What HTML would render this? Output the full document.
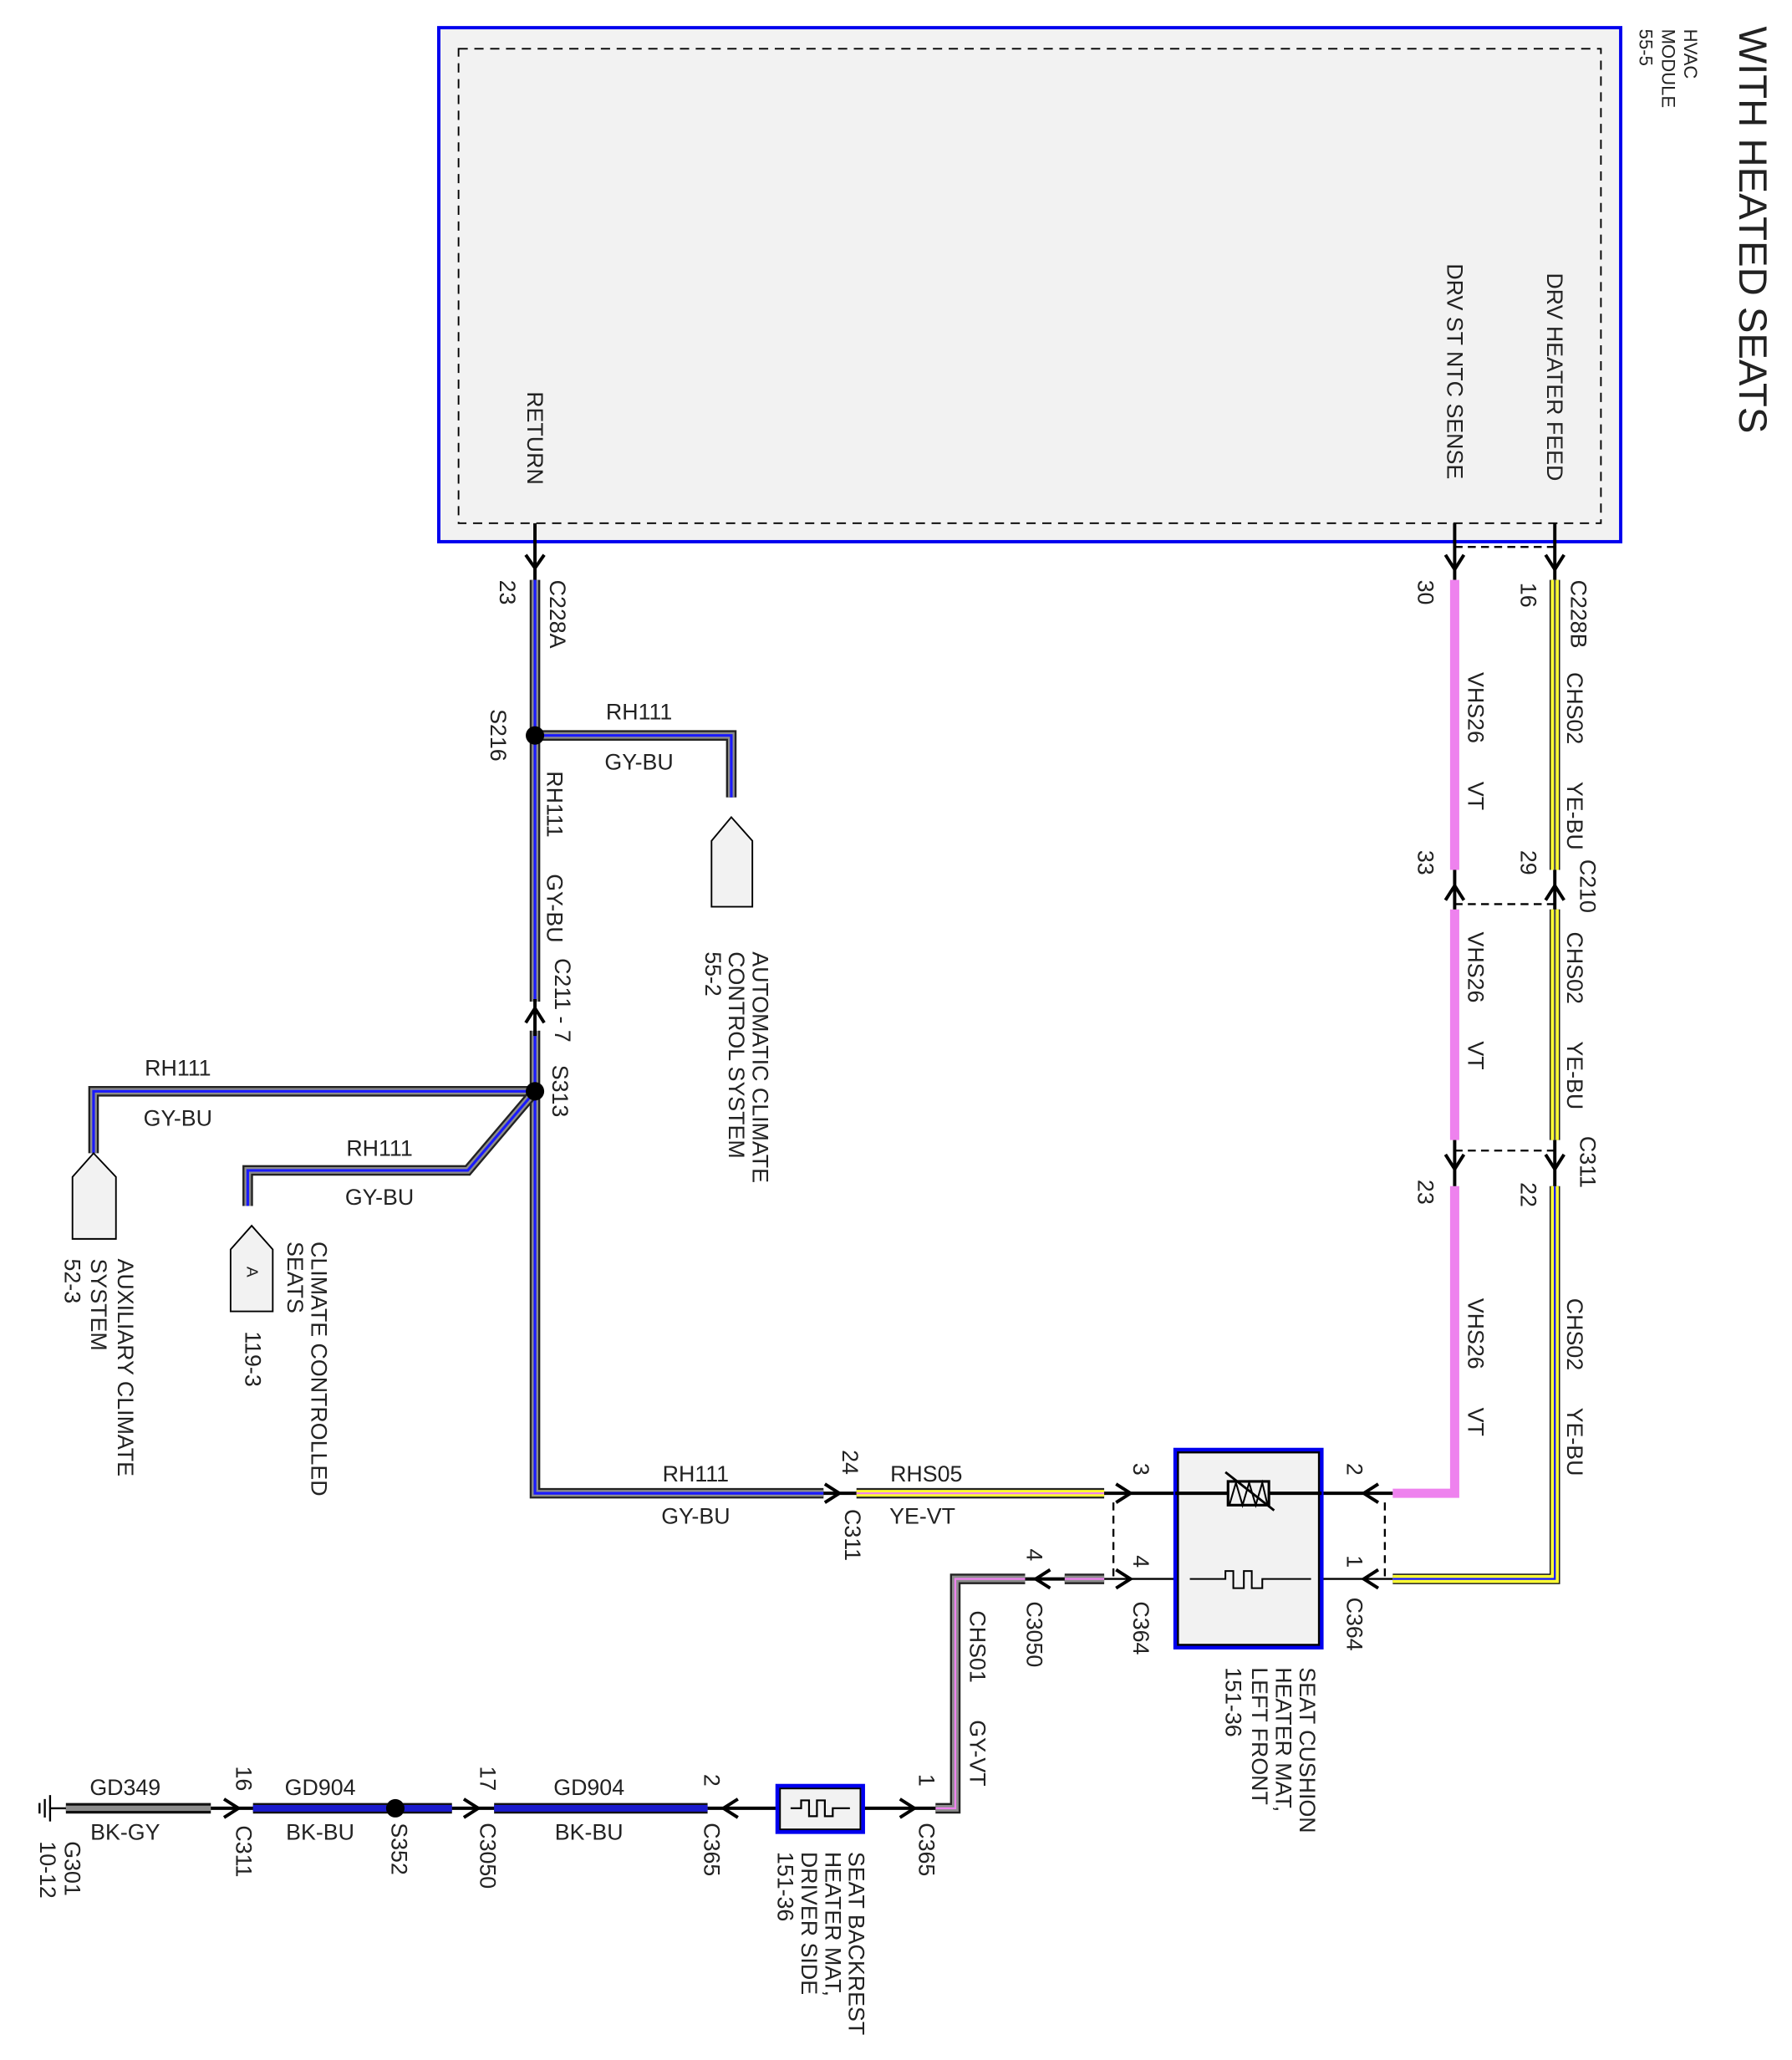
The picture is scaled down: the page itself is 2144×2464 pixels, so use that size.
<!DOCTYPE html>
<html><head><meta charset="utf-8"><style>
html,body{margin:0;padding:0;background:#fff}
svg{display:block}
text{font-family:"Liberation Sans",sans-serif;fill:#222}
</style></head><body>
<svg width="2144" height="2464" viewBox="0 0 1360 1563" xmlns="http://www.w3.org/2000/svg">
<style>
.r{font-size:17px}
.h{font-size:17px;text-anchor:middle}
.wk{fill:none;stroke:#222;stroke-width:8}
.ln{fill:none;stroke:#000;stroke-width:2.5}
.ds{fill:none;stroke:#000;stroke-width:1.5;stroke-dasharray:6,4}
.ar{fill:none;stroke:#000;stroke-width:2.5}
</style>

<text transform="translate(1330,20) rotate(90)" dominant-baseline="central" style="font-size:30px">WITH HEATED SEATS</text>
<text transform="translate(1283,22) rotate(90)" dominant-baseline="central" style="font-size:14px">HVAC</text>
<text transform="translate(1266,22) rotate(90)" dominant-baseline="central" style="font-size:14px">MODULE</text>
<text transform="translate(1249,22) rotate(90)" dominant-baseline="central" style="font-size:14px">55-5</text>

<rect x="333" y="21" width="897" height="390" fill="#f2f2f2" stroke="#0000ee" stroke-width="2.5"/>
<rect x="348" y="37" width="867" height="360" fill="none" stroke="#000" stroke-width="1.2" stroke-dasharray="7,5"/>
<text transform="translate(406,297) rotate(90)" dominant-baseline="central" class="r">RETURN</text>
<text transform="translate(1104,200) rotate(90)" dominant-baseline="central" class="r">DRV ST NTC SENSE</text>
<text transform="translate(1180,207) rotate(90)" dominant-baseline="central" class="r">DRV HEATER FEED</text>
<line x1="406" y1="397" x2="406" y2="440" class="ln"/>
<line x1="1104" y1="397" x2="1104" y2="440" class="ln"/>
<line x1="1180" y1="397" x2="1180" y2="440" class="ln"/>
<line x1="1104" y1="415" x2="1180" y2="415" class="ds" stroke-width="2"/>

<path d="M406,440 V1133 H625" class="wk"/>
<path d="M406,440 V1133 H625" fill="none" stroke="#8c8c8c" stroke-width="5"/>
<path d="M406,440 V1133 H625" fill="none" stroke="#1a1aff" stroke-width="2"/>
<path d="M406,558 H555 V605" class="wk"/>
<path d="M406,558 H555 V605" fill="none" stroke="#8c8c8c" stroke-width="5"/>
<path d="M406,558 H555 V605" fill="none" stroke="#1a1aff" stroke-width="2"/>
<path d="M406,828 H71 V875" class="wk"/>
<path d="M406,828 H71 V875" fill="none" stroke="#8c8c8c" stroke-width="5"/>
<path d="M406,828 H71 V875" fill="none" stroke="#1a1aff" stroke-width="2"/>
<path d="M406,828 L355,888 H188 V915" class="wk"/>
<path d="M406,828 L355,888 H188 V915" fill="none" stroke="#8c8c8c" stroke-width="5"/>
<path d="M406,828 L355,888 H188 V915" fill="none" stroke="#1a1aff" stroke-width="2"/>
<rect x="400" y="760" width="12" height="22" fill="#fff"/>
<line x1="406" y1="758" x2="406" y2="786" class="ln"/>
<polyline points="399,776 406,765 413,776" class="ar"/>
<polyline points="399,431 406,421 413,431" class="ar" transform="rotate(180 406 426)"/>

<circle cx="406" cy="558" r="7" fill="#000"/>
<circle cx="406" cy="828" r="7" fill="#000"/>

<text transform="translate(385,440) rotate(90)" dominant-baseline="central" class="r">23</text>
<text transform="translate(423,440) rotate(90)" dominant-baseline="central" class="r">C228A</text>
<text transform="translate(378,538) rotate(90)" dominant-baseline="central" class="r">S216</text>
<text transform="translate(421,585) rotate(90)" dominant-baseline="central" class="r">RH111</text>
<text transform="translate(421,663) rotate(90)" dominant-baseline="central" class="r">GY-BU</text>
<text transform="translate(427,727) rotate(90)" dominant-baseline="central" class="r">C211 - 7</text>
<text transform="translate(425,808) rotate(90)" dominant-baseline="central" class="r">S313</text>
<text x="485" y="546" class="h">RH111</text>
<text x="485" y="584" class="h">GY-BU</text>
<text x="135" y="816" class="h">RH111</text>
<text x="135" y="854" class="h">GY-BU</text>
<text x="288" y="877" class="h">RH111</text>
<text x="288" y="914" class="h">GY-BU</text>

<path d="M540,638 L555,620 L571,638 V688 H540 Z" fill="#f2f2f2" stroke="#000" stroke-width="1.2"/>
<path d="M55,893 L71,875 L88,893 V940 H55 Z" fill="#f2f2f2" stroke="#000" stroke-width="1.2"/>
<path d="M175,948 L191,930 L207,948 V995 H175 Z" fill="#f2f2f2" stroke="#000" stroke-width="1.2"/>
<text transform="translate(191,965) rotate(90)" dominant-baseline="central" text-anchor="middle" style="font-size:12px">A</text>

<text transform="translate(577,722) rotate(90)" dominant-baseline="central" class="r">AUTOMATIC CLIMATE</text>
<text transform="translate(559,722) rotate(90)" dominant-baseline="central" class="r">CONTROL SYSTEM</text>
<text transform="translate(541,722) rotate(90)" dominant-baseline="central" class="r">55-2</text>
<text transform="translate(95,955) rotate(90)" dominant-baseline="central" class="r">AUXILIARY CLIMATE</text>
<text transform="translate(75,955) rotate(90)" dominant-baseline="central" class="r">SYSTEM</text>
<text transform="translate(55,955) rotate(90)" dominant-baseline="central" class="r">52-3</text>
<text transform="translate(242,942) rotate(90)" dominant-baseline="central" class="r">CLIMATE CONTROLLED</text>
<text transform="translate(224,942) rotate(90)" dominant-baseline="central" class="r">SEATS</text>
<text transform="translate(192,1010) rotate(90)" dominant-baseline="central" class="r">119-3</text>

<text x="528" y="1124" class="h">RH111</text>
<text x="528" y="1156" class="h">GY-BU</text>
<line x1="625" y1="1133" x2="650" y2="1133" class="ln"/>
<polyline points="626,1126 637,1133 626,1140" class="ar"/>
<text transform="translate(645,1100) rotate(90)" dominant-baseline="central" class="r">24</text>
<text transform="translate(647,1145) rotate(90)" dominant-baseline="central" class="r">C311</text>
<line x1="650" y1="1133" x2="838" y2="1133" stroke="#222" stroke-width="8"/>
<line x1="650" y1="1133" x2="838" y2="1133" stroke="#ffff33" stroke-width="5"/>
<line x1="650" y1="1133" x2="838" y2="1133" stroke="#ee82ee" stroke-width="1.5"/>
<text x="703" y="1124" class="h">RHS05</text>
<text x="700" y="1156" class="h">YE-VT</text>
<line x1="838" y1="1133" x2="1057" y2="1133" class="ln"/>
<polyline points="847,1126 858,1133 847,1140" class="ar"/>
<polyline points="1046,1126 1035,1133 1046,1140" class="ar"/>
<text transform="translate(866,1110) rotate(90)" dominant-baseline="central" class="r">3</text>
<text transform="translate(1028,1110) rotate(90)" dominant-baseline="central" class="r">2</text>

<line x1="838" y1="1198" x2="1057" y2="1198" stroke="#000" stroke-width="1.5"/>
<polyline points="847,1191 858,1198 847,1205" class="ar"/>
<polyline points="1046,1191 1035,1198 1046,1205" class="ar"/>
<text transform="translate(866,1180) rotate(90)" dominant-baseline="central" class="r">4</text>
<text transform="translate(1028,1180) rotate(90)" dominant-baseline="central" class="r">1</text>
<text transform="translate(866,1215) rotate(90)" dominant-baseline="central" class="r">C364</text>
<text transform="translate(1028,1212) rotate(90)" dominant-baseline="central" class="r">C364</text>
<line x1="845" y1="1140" x2="845" y2="1198" class="ds" stroke-width="2"/>
<line x1="1051" y1="1140" x2="1051" y2="1198" class="ds" stroke-width="2"/>

<rect x="892" y="1100" width="111" height="150" fill="#f2f2f2" stroke="#0000ee" stroke-width="3"/>
<rect x="894" y="1102" width="107" height="146" fill="none" stroke="#000" stroke-width="1.5"/>
<line x1="892" y1="1133" x2="1003" y2="1133" class="ln"/>
<rect x="932" y="1124" width="31" height="18" fill="#f2f2f2" stroke="#000" stroke-width="2"/>
<polyline points="933,1142 938,1125 943,1142 948,1125 953,1142 958,1125 962,1142" fill="none" stroke="#000" stroke-width="1.3"/>
<line x1="930" y1="1117" x2="967" y2="1146" stroke="#000" stroke-width="1.8"/>
<rect x="930" y="1190" width="38" height="18" fill="#f2f2f2"/>
<polyline points="903,1198 930,1198 930,1192 936,1192 936,1205 944,1205 944,1192 950,1192 950,1205 958,1205 958,1198 995,1198" fill="none" stroke="#000" stroke-width="1.3"/>
<text transform="translate(992,1265) rotate(90)" dominant-baseline="central" class="r">SEAT CUSHION</text>
<text transform="translate(974,1265) rotate(90)" dominant-baseline="central" class="r">HEATER MAT,</text>
<text transform="translate(956,1265) rotate(90)" dominant-baseline="central" class="r">LEFT FRONT</text>
<text transform="translate(936,1265) rotate(90)" dominant-baseline="central" class="r">151-36</text>

<g stroke="#ee82ee" stroke-width="7" fill="none">
<line x1="1104" y1="440" x2="1104" y2="660"/>
<line x1="1104" y1="690" x2="1104" y2="865"/>
<path d="M1104,900 V1133 H1057"/>
</g>
<g fill="none">
<line x1="1180" y1="440" x2="1180" y2="660" stroke="#222" stroke-width="8"/>
<line x1="1180" y1="440" x2="1180" y2="660" stroke="#ffff33" stroke-width="6"/>
<line x1="1180" y1="440" x2="1180" y2="660" stroke="#555" stroke-width="1.5"/>
<line x1="1180" y1="690" x2="1180" y2="865" stroke="#222" stroke-width="8"/>
<line x1="1180" y1="690" x2="1180" y2="865" stroke="#ffff33" stroke-width="6"/>
<line x1="1180" y1="690" x2="1180" y2="865" stroke="#555" stroke-width="1.5"/>
<path d="M1180,900 V1198 H1057" stroke="#222" stroke-width="8"/>
<path d="M1180,900 V1198 H1057" stroke="#ffff33" stroke-width="6"/>
<path d="M1180,900 V1198 H1057" stroke="#1a1aff" stroke-width="1.5"/>
</g>
<polyline points="1097,421 1104,432 1111,421" class="ar"/>
<polyline points="1173,421 1180,432 1187,421" class="ar"/>
<polyline points="1097,683 1104,672 1111,683" class="ar"/>
<polyline points="1173,683 1180,672 1187,683" class="ar"/>
<polyline points="1097,876 1104,887 1111,876" class="ar"/>
<polyline points="1173,876 1180,887 1187,876" class="ar"/>
<line x1="1104" y1="660" x2="1104" y2="690" class="ln"/>
<line x1="1180" y1="660" x2="1180" y2="690" class="ln"/>
<line x1="1104" y1="865" x2="1104" y2="900" class="ln"/>
<line x1="1180" y1="865" x2="1180" y2="900" class="ln"/>
<line x1="1104" y1="686" x2="1180" y2="686" class="ds"/>
<line x1="1104" y1="873" x2="1180" y2="873" class="ds"/>

<text transform="translate(1082,440) rotate(90)" dominant-baseline="central" class="r">30</text>
<text transform="translate(1160,442) rotate(90)" dominant-baseline="central" class="r">16</text>
<text transform="translate(1082,645) rotate(90)" dominant-baseline="central" class="r">33</text>
<text transform="translate(1160,645) rotate(90)" dominant-baseline="central" class="r">29</text>
<text transform="translate(1082,895) rotate(90)" dominant-baseline="central" class="r">23</text>
<text transform="translate(1160,897) rotate(90)" dominant-baseline="central" class="r">22</text>
<text transform="translate(1198,440) rotate(90)" dominant-baseline="central" class="r">C228B</text>
<text transform="translate(1205,652) rotate(90)" dominant-baseline="central" class="r">C210</text>
<text transform="translate(1205,862) rotate(90)" dominant-baseline="central" class="r">C311</text>
<g class="r">
<text transform="translate(1120,510) rotate(90)" dominant-baseline="central">VHS26</text>
<text transform="translate(1120,593) rotate(90)" dominant-baseline="central">VT</text>
<text transform="translate(1120,707) rotate(90)" dominant-baseline="central">VHS26</text>
<text transform="translate(1120,790) rotate(90)" dominant-baseline="central">VT</text>
<text transform="translate(1120,985) rotate(90)" dominant-baseline="central">VHS26</text>
<text transform="translate(1120,1068) rotate(90)" dominant-baseline="central">VT</text>
<text transform="translate(1195,510) rotate(90)" dominant-baseline="central">CHS02</text>
<text transform="translate(1195,593) rotate(90)" dominant-baseline="central">YE-BU</text>
<text transform="translate(1195,707) rotate(90)" dominant-baseline="central">CHS02</text>
<text transform="translate(1195,790) rotate(90)" dominant-baseline="central">YE-BU</text>
<text transform="translate(1195,985) rotate(90)" dominant-baseline="central">CHS02</text>
<text transform="translate(1195,1068) rotate(90)" dominant-baseline="central">YE-BU</text>
</g>

<line x1="808" y1="1198" x2="838" y2="1198" stroke="#222" stroke-width="8"/>
<line x1="808" y1="1198" x2="838" y2="1198" stroke="#8c8c8c" stroke-width="5"/>
<line x1="808" y1="1198" x2="838" y2="1198" stroke="#ee82ee" stroke-width="1.5"/>
<line x1="778" y1="1198" x2="808" y2="1198" class="ln"/>
<polyline points="797,1191 786,1198 797,1205" class="ar"/>
<text transform="translate(785,1175) rotate(90)" dominant-baseline="central" class="r">4</text>
<text transform="translate(785,1215) rotate(90)" dominant-baseline="central" class="r">C3050</text>
<path d="M778,1198 H725 V1372 H710" stroke="#222" stroke-width="8" fill="none"/>
<path d="M778,1198 H725 V1372 H710" stroke="#8c8c8c" stroke-width="5" fill="none"/>
<path d="M778,1198 H725 V1372 H710" stroke="#ee82ee" stroke-width="1.5" fill="none"/>
<text transform="translate(742,1222) rotate(90)" dominant-baseline="central" class="r">CHS01</text>
<text transform="translate(742,1305) rotate(90)" dominant-baseline="central" class="r">GY-VT</text>

<line x1="537" y1="1372" x2="710" y2="1372" class="ln"/>
<polyline points="683,1365 694,1372 683,1379" class="ar"/>
<polyline points="560,1365 549,1372 560,1379" class="ar"/>
<text transform="translate(703,1346) rotate(90)" dominant-baseline="central" class="r">1</text>
<text transform="translate(703,1383) rotate(90)" dominant-baseline="central" class="r">C365</text>
<text transform="translate(540,1346) rotate(90)" dominant-baseline="central" class="r">2</text>
<text transform="translate(540,1383) rotate(90)" dominant-baseline="central" class="r">C365</text>
<rect x="590" y="1355" width="65" height="35" fill="#f2f2f2" stroke="#0000ee" stroke-width="3"/>
<rect x="592" y="1357" width="61" height="31" fill="none" stroke="#000" stroke-width="1.2"/>
<polyline points="600,1372 608,1372 608,1366 614,1366 614,1378 620,1378 620,1366 626,1366 626,1378 632,1378 632,1372 645,1372" fill="none" stroke="#000" stroke-width="1.4"/>
<text transform="translate(650,1405) rotate(90)" dominant-baseline="central" class="r">SEAT BACKREST</text>
<text transform="translate(632,1405) rotate(90)" dominant-baseline="central" class="r">HEATER MAT,</text>
<text transform="translate(614,1405) rotate(90)" dominant-baseline="central" class="r">DRIVER SIDE</text>
<text transform="translate(596,1405) rotate(90)" dominant-baseline="central" class="r">151-36</text>

<g fill="none">
<line x1="375" y1="1372" x2="537" y2="1372" stroke="#111" stroke-width="8"/>
<line x1="375" y1="1372" x2="537" y2="1372" stroke="#1a1acc" stroke-width="5"/>
<line x1="192" y1="1372" x2="343" y2="1372" stroke="#111" stroke-width="8"/>
<line x1="192" y1="1372" x2="343" y2="1372" stroke="#1a1acc" stroke-width="5"/>
<line x1="50" y1="1372" x2="160" y2="1372" stroke="#111" stroke-width="8"/>
<line x1="50" y1="1372" x2="160" y2="1372" stroke="#8c8c8c" stroke-width="4"/>
</g>
<line x1="343" y1="1372" x2="375" y2="1372" class="ln"/>
<line x1="160" y1="1372" x2="192" y2="1372" class="ln"/>
<polyline points="352,1365 363,1372 352,1379" class="ar"/>
<polyline points="170,1365 181,1372 170,1379" class="ar"/>
<circle cx="300" cy="1372" r="7" fill="#000"/>
<text x="447" y="1362" class="h">GD904</text>
<text x="447" y="1396" class="h">BK-BU</text>
<text x="243" y="1362" class="h">GD904</text>
<text x="243" y="1396" class="h">BK-BU</text>
<text x="95" y="1362" class="h">GD349</text>
<text x="95" y="1396" class="h">BK-GY</text>
<text transform="translate(370,1340) rotate(90)" dominant-baseline="central" class="r">17</text>
<text transform="translate(370,1383) rotate(90)" dominant-baseline="central" class="r">C3050</text>
<text transform="translate(303,1383) rotate(90)" dominant-baseline="central" class="r">S352</text>
<text transform="translate(185,1340) rotate(90)" dominant-baseline="central" class="r">16</text>
<text transform="translate(185,1385) rotate(90)" dominant-baseline="central" class="r">C311</text>
<line x1="38" y1="1372" x2="50" y2="1372" stroke="#000" stroke-width="1.5"/>
<line x1="38" y1="1362" x2="38" y2="1382" stroke="#000" stroke-width="1.5"/>
<line x1="34" y1="1365" x2="34" y2="1379" stroke="#000" stroke-width="1.5"/>
<line x1="30" y1="1368" x2="30" y2="1376" stroke="#000" stroke-width="1.5"/>
<text transform="translate(55,1397) rotate(90)" dominant-baseline="central" class="r">G301</text>
<text transform="translate(36,1397) rotate(90)" dominant-baseline="central" class="r">10-12</text>
</svg>
</body></html>
